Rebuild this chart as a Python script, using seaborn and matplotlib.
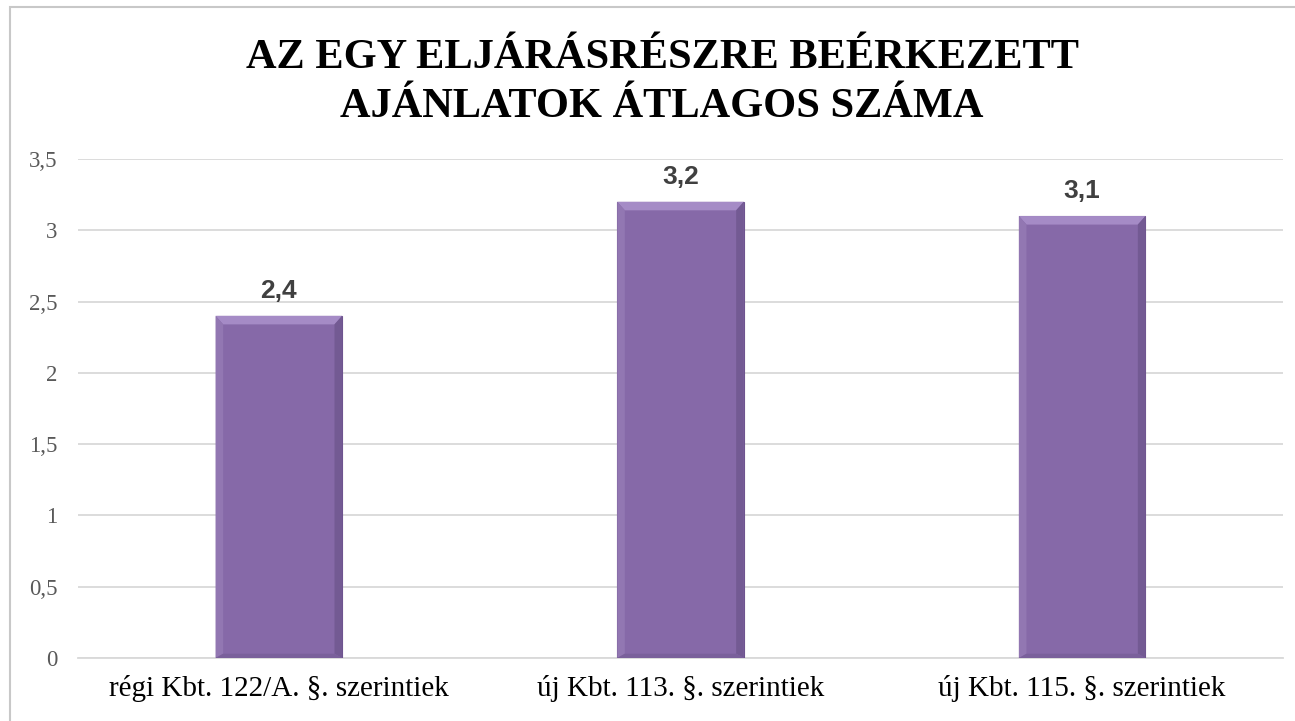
import numpy as np
import pandas as pd
import matplotlib.pyplot as plt
import matplotlib.patches as mpatches
import seaborn as sns

categories = ["régi Kbt. 122/A. §. szerintiek",
              "új Kbt. 113. §. szerintiek",
              "új Kbt. 115. §. szerintiek"]
values = [2.4, 3.2, 3.1]
labels = ["2,4", "3,2", "3,1"]
yticks = [0, 0.5, 1, 1.5, 2, 2.5, 3, 3.5]
ytick_labels = ["0", "0,5", "1", "1,5", "2", "2,5", "3", "3,5"]
title = "AZ EGY ELJÁRÁSRÉSZRE BEÉRKEZETT\nAJÁNLATOK ÁTLAGOS SZÁMA"

sns.set_theme(style="white")
plt.rcParams["font.family"] = ["Liberation Serif", "DejaVu Serif"]

df = pd.DataFrame({"cat": categories, "val": values})

W, H = 1295, 721
fig = plt.figure(figsize=(W / 100, H / 100), dpi=100)
ax = fig.add_axes([78 / W, 1 - 658 / H, (1283 - 78) / W, (658 - 159) / H])

sns.barplot(data=df, x="cat", y="val", color="#8669A8", width=0.315,
            saturation=1, ax=ax, edgecolor="#6E548F", linewidth=0.8, zorder=3)

# bevel effect from bar geometry
for p in ax.patches:
    x0, y0 = p.get_x(), p.get_y()
    w, h = p.get_width(), p.get_height()
    bw = w * 0.06
    bh = 0.06
    top = mpatches.Polygon([[x0, y0 + h], [x0 + w, y0 + h],
                            [x0 + w - bw, y0 + h - bh], [x0 + bw, y0 + h - bh]],
                           closed=True, facecolor="#A58BC6", edgecolor="none", zorder=4)
    right = mpatches.Polygon([[x0 + w, y0 + h], [x0 + w, y0],
                              [x0 + w - bw, y0 + bh * 0.5], [x0 + w - bw, y0 + h - bh]],
                             closed=True, facecolor="#735A93", edgecolor="none", zorder=4)
    left = mpatches.Polygon([[x0, y0 + h], [x0, y0],
                             [x0 + bw, y0 + bh * 0.5], [x0 + bw, y0 + h - bh]],
                            closed=True, facecolor="#9277B2", edgecolor="none", zorder=4)
    bottom = mpatches.Polygon([[x0, y0], [x0 + w, y0],
                               [x0 + w - bw, y0 + bh * 0.5], [x0 + bw, y0 + bh * 0.5]],
                              closed=True, facecolor="#7A609B", edgecolor="none", zorder=4)
    for poly in (top, right, left, bottom):
        ax.add_patch(poly)

for i, (v, lab) in enumerate(zip(values, labels)):
    ax.text(i, v + 0.09, lab, ha="center", va="bottom", fontsize=19,
            fontweight="bold", color="#404040",
            family=["Liberation Sans", "DejaVu Sans"], zorder=5)

ax.set_ylim(0, 3.5)
ax.set_xlim(-0.5, 2.5)
ax.set_yticks(yticks)
ax.set_yticklabels(ytick_labels, fontsize=16.5, color="#595959")
ax.tick_params(axis="x", labelsize=21, colors="#000000", length=0, pad=12.5)
ax.tick_params(axis="y", length=0, pad=15)
ax.set_xlabel("")
ax.set_ylabel("")
ax.yaxis.grid(True, color="#D9D9D9", linewidth=1.3, zorder=0)
for s in ["top", "right", "left"]:
    ax.spines[s].set_visible(False)
ax.spines["bottom"].set_color("#D9D9D9")
ax.spines["bottom"].set_linewidth(1.3)

fig.text(662 / W, 1 - 117 / H, title, ha="center", va="baseline",
         fontsize=30.5, fontweight="bold", color="#000000", linespacing=1.38)

# chart frame
fig.patches.append(mpatches.Rectangle((10 / W, -0.1), 1.2, 1 - 7 / H + 0.1,
                                      transform=fig.transFigure, fill=False,
                                      edgecolor="#C8C8C8", linewidth=1.5))

fig.savefig("out.png", dpi=100)
